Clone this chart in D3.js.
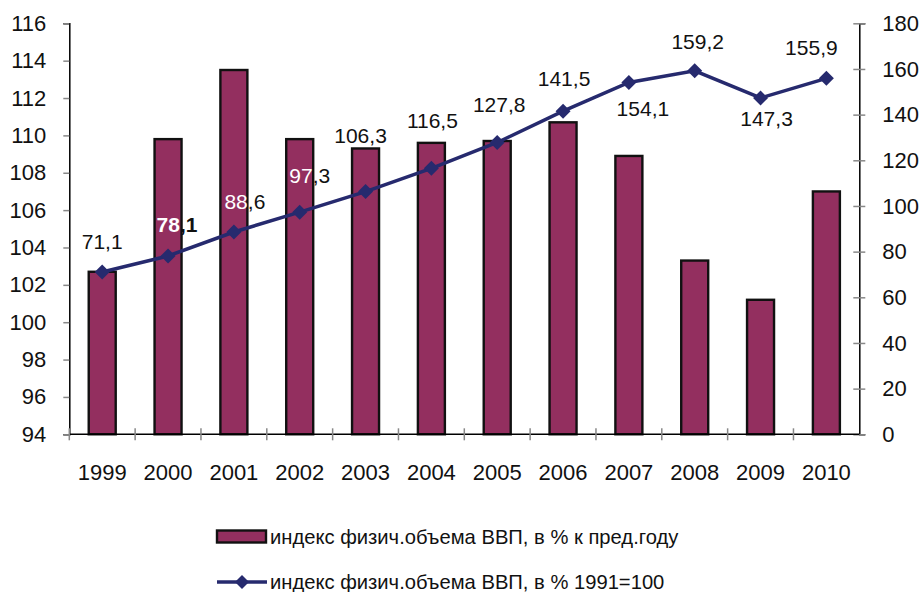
<!DOCTYPE html>
<html><head><meta charset="utf-8">
<script src="https://cdn.jsdelivr.net/npm/d3@7"></script>
<style>
html,body{margin:0;padding:0;background:#fff;}
svg text{font-family:"Liberation Sans",Arial,Helvetica,sans-serif;}
</style></head>
<body><svg id="c" width="920" height="592"></svg>
<script>
const years = ["1999","2000","2001","2002","2003","2004","2005","2006","2007","2008","2009","2010"];
const barValues = [102.7,109.8,113.5,109.8,109.3,109.6,109.7,110.7,108.9,103.3,101.2,107.0];
const lineValues = [71.1,78.1,88.6,97.3,106.3,116.5,127.8,141.5,154.1,159.2,147.3,155.9];
const lineLabels = ["71,1","78,1","88,6","97,3","106,3","116,5","127,8","141,5","154,1","159,2","147,3","155,9"];
const leftTicks = [94,96,98,100,102,104,106,108,110,112,114,116];
const rightTicks = [0,20,40,60,80,100,120,140,160,180];
const legendLabels = ["индекс физич.объема ВВП, в % к пред.году","индекс физич.объема ВВП, в % 1991=100"];
// label placement offsets (dx, dy) relative to the point
const labelOffsets = [[0,-23],[9,-24],[11,-23],[10,-29],[-5,-49],[1,-40],[2,-30],[1,-25],[14,34],[3,-22],[6,28],[-15,-23]];

const BAR = "#932f5f", LINE = "#262a6e";
const svg = d3.select("#c");
const L = 69.3, R = 859.3, T = 23.3, B = 434.3;

const x = d3.scaleBand().domain(years).range([L,R]).paddingInner(0.59).paddingOuter(0.295);
const xs = d3.scaleBand().domain(years).range([L,R]);
const yL = d3.scaleLinear().domain([94,116]).range([B,T]);
const yR = d3.scaleLinear().domain([0,180]).range([B,T]);

// bars
svg.append("g").selectAll("rect").data(barValues).join("rect")
  .attr("x",(d,i)=>x(years[i])).attr("width",x.bandwidth())
  .attr("y",d=>yL(d)).attr("height",d=>B-yL(d))
  .attr("fill",BAR).attr("stroke","#111").attr("stroke-width",2.4);

const FF = "Liberation Sans, Arial, sans-serif";
// left axis
const gl = svg.append("g").attr("transform",`translate(${L},0)`)
  .call(d3.axisLeft(yL).tickValues(leftTicks).tickSize(6).tickPadding(17));
gl.select(".domain").attr("stroke","#000").attr("stroke-width",1.5);
gl.selectAll(".tick line").attr("stroke","#888").attr("stroke-width",1.5);
gl.selectAll("text").attr("font-size",22).attr("fill","#111").attr("font-family",FF);

// right axis
const gr = svg.append("g").attr("transform",`translate(${R},0)`)
  .call(d3.axisRight(yR).tickValues(rightTicks).tickSize(6).tickPadding(17));
gr.select(".domain").attr("stroke","#000").attr("stroke-width",1.5);
gr.selectAll(".tick line").attr("stroke","#888").attr("stroke-width",1.5).attr("x1",-6);
gr.selectAll("text").attr("font-size",22).attr("fill","#111").attr("font-family",FF);

// bottom axis
const gb = svg.append("g").attr("transform",`translate(0,${B})`)
  .call(d3.axisBottom(xs).tickSize(0).tickPadding(30));
gb.select(".domain").attr("stroke","#000").attr("stroke-width",1.5).attr("d",`M${L},0H${R}`);
gb.selectAll("text").attr("font-size",22).attr("fill","#111").attr("font-family",FF);
const sep = years.slice(1).map(y=>xs(y)).concat([L]);
svg.append("g").selectAll("line").data(sep).join("line")
  .attr("x1",d=>d).attr("x2",d=>d).attr("y1",B-6).attr("y2",B+6)
  .attr("stroke","#888").attr("stroke-width",1.5);

// line
const cx = i => x(years[i]) + x.bandwidth()/2;
svg.append("path").datum(lineValues)
  .attr("d",d3.line().x((d,i)=>cx(i)).y(d=>yR(d)))
  .attr("fill","none").attr("stroke",LINE).attr("stroke-width",3.5);
const diamond = (s)=>`M0,${-s}L${s},0L0,${s}L${-s},0Z`;
svg.append("g").selectAll("path").data(lineValues).join("path")
  .attr("transform",(d,i)=>`translate(${cx(i)},${yR(d)})`)
  .attr("d",diamond(7.5)).attr("fill",LINE);

// labels
const lab = svg.append("g").selectAll("text").data(lineValues).join("text")
  .attr("x",(d,i)=>cx(i)+labelOffsets[i][0])
  .attr("y",(d,i)=>yR(d)+labelOffsets[i][1])
  .attr("text-anchor","middle").attr("font-size",21).attr("fill","#111");
lab.each(function(d,i){
  const t = d3.select(this);
  const parts = lineLabels[i].split(",");
  if (i>=1 && i<=3){
    if (i===1) t.attr("font-weight","bold");
    t.append("tspan").attr("fill","#fff").text(parts[0]);
    t.append("tspan").attr("fill","#111").text(","+parts[1]);
  } else {
    t.text(lineLabels[i]);
  }
});

// legend
const lg = svg.append("g");
lg.append("rect").attr("x",217).attr("y",530.5).attr("width",49).attr("height",12)
  .attr("fill",BAR).attr("stroke","#111").attr("stroke-width",2.4);
lg.append("text").attr("x",270).attr("y",544).attr("font-size",20.2).attr("fill","#111").text(legendLabels[0]);
lg.append("line").attr("x1",217).attr("x2",267).attr("y1",582).attr("y2",582)
  .attr("stroke",LINE).attr("stroke-width",3.5);
lg.append("path").attr("transform","translate(242,582)").attr("d",diamond(7)).attr("fill",LINE);
lg.append("text").attr("x",270).attr("y",589).attr("font-size",20.2).attr("fill","#111").text(legendLabels[1]);
</script></body></html>
